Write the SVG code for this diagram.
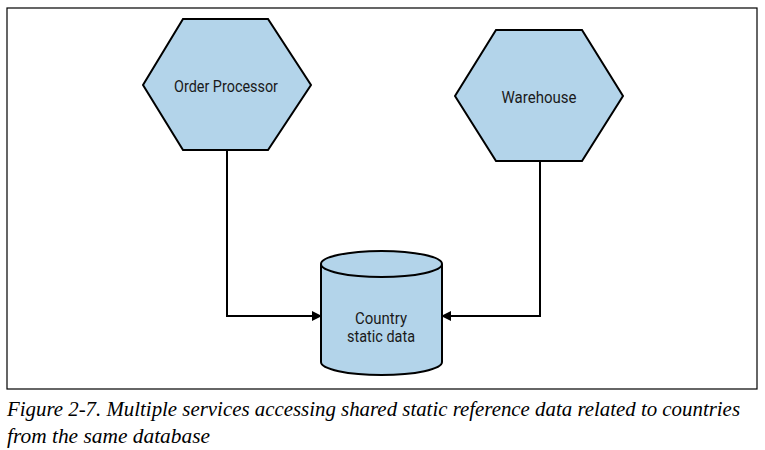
<svg xmlns="http://www.w3.org/2000/svg" width="765" height="450" viewBox="0 0 765 450">
<style>
.shape{fill:#b3d4ea;stroke:#000;stroke-width:2;stroke-linejoin:miter}
.lbl{font-family:"Roboto","Liberation Sans",sans-serif;font-size:16.5px;fill:#1a1a1a;text-anchor:middle}
.conn{fill:none;stroke:#000;stroke-width:2}
.cap{font-family:"Liberation Serif",serif;font-style:italic;font-size:20px;fill:#000}
</style>
<defs>
<marker id="arr" markerWidth="10" markerHeight="10" refX="9" refY="5" orient="auto" markerUnits="userSpaceOnUse">
<path d="M0,0 L10,5 L0,10 Z" fill="#000"/>
</marker>
</defs>
<rect x="7" y="8" width="750" height="381" fill="#fff" stroke="#000" stroke-width="1.2"/>
<g id="connectors">
<path class="conn" d="M227,150 V316 H321" marker-end="url(#arr)"/>
<path class="conn" d="M540,161 V316 H442" marker-end="url(#arr)"/>
</g>
<g id="order-processor">
<polygon class="shape" points="183,19 268,19 311,85 268,150 183,150 143,85"/>
<text class="lbl" x="226" y="92" textLength="104" lengthAdjust="spacingAndGlyphs">Order Processor</text>
</g>
<g id="warehouse">
<polygon class="shape" points="496,30 582,30 623,96 582,161 496,161 455,96"/>
<text class="lbl" x="539" y="103" textLength="75" lengthAdjust="spacingAndGlyphs">Warehouse</text>
</g>
<g id="country-static-data">
<path class="shape" d="M321,264 V362 A60.5,13 0 0 0 442,362 V264 A60.5,13 0 0 0 321,264 Z"/>
<path class="shape" d="M321,264 A60.5,13 0 0 0 442,264" fill="none"/>
<text class="lbl" x="381" y="324" textLength="52" lengthAdjust="spacingAndGlyphs">Country</text>
<text class="lbl" x="381" y="342" textLength="68" lengthAdjust="spacingAndGlyphs">static data</text>
</g>
<text class="cap" x="7" y="416" textLength="733" lengthAdjust="spacingAndGlyphs">Figure 2-7. Multiple services accessing shared static reference data related to countries</text>
<text class="cap" x="7" y="443" textLength="203" lengthAdjust="spacingAndGlyphs">from the same database</text>
</svg>
